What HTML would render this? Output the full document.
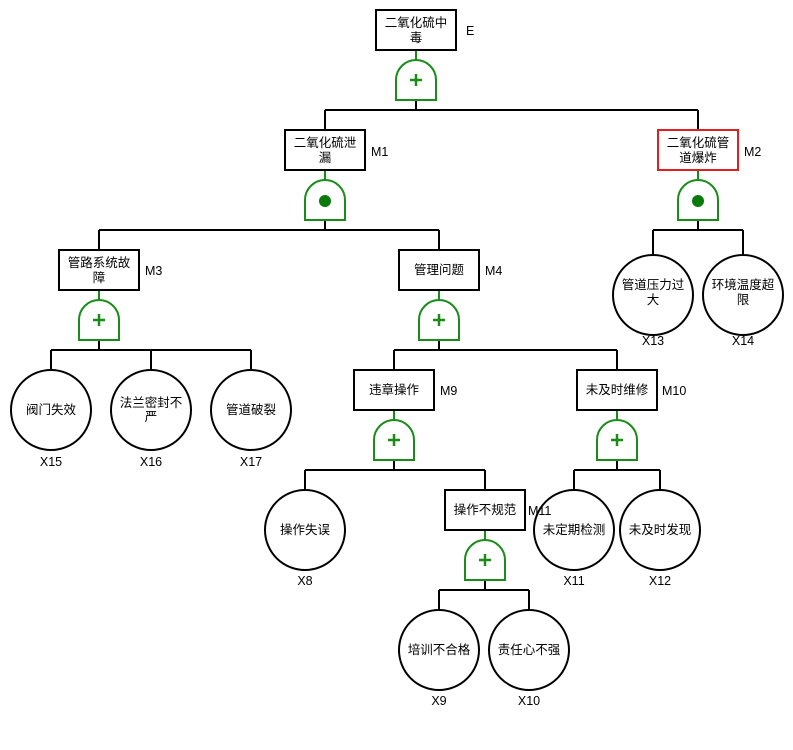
<!DOCTYPE html>
<html><head><meta charset="utf-8"><style>
html,body{margin:0;padding:0;background:#fff;}
svg{display:block;}
text{font-family:"Liberation Sans","Noto Sans CJK SC",sans-serif;font-size:12.5px;fill:#000;}
.l{stroke:#000;stroke-width:2;fill:none;}
.g{stroke:#1a8c1a;stroke-width:2;fill:#fff;}
.gl{stroke:#1a8c1a;stroke-width:2.5;}
.b{stroke:#000;stroke-width:2;fill:#fff;}
</style></head><body>
<svg width="793" height="750" viewBox="0 0 793 750" xmlns="http://www.w3.org/2000/svg">
<path class="l" d="M416 100V110M325 110H698M325 110V130M698 110V130
M325 220V230M99 230H439M99 230V250M439 230V250
M698 220V230M653 230H743M653 230V255M743 230V255
M99 340V350M51 350H251M51 350V370M151 350V370M251 350V370
M439 340V350M394 350H617M394 350V370M617 350V370
M394 460V470M305 470H485M305 470V490M485 470V490
M617 460V470M574 470H660M574 470V490M660 470V490
M485 580V590M439 590H529M439 590V610M529 590V610"/>
<path class="gl" style="stroke-width:2" d="M416 50V60M325 170V180M698 170V180M99 290V300M439 290V300M394 410V420M617 410V420M485 530V540"/>
<g class="g">
<path d="M396 100V80A20 20 0 0 1 436 80V100Z"/>
<path d="M305 220V200A20 20 0 0 1 345 200V220Z"/>
<path d="M678 220V200A20 20 0 0 1 718 200V220Z"/>
<path d="M79 340V320A20 20 0 0 1 119 320V340Z"/>
<path d="M419 340V320A20 20 0 0 1 459 320V340Z"/>
<path d="M374 460V440A20 20 0 0 1 414 440V460Z"/>
<path d="M597 460V440A20 20 0 0 1 637 440V460Z"/>
<path d="M465 580V560A20 20 0 0 1 505 560V580Z"/>
</g>
<g class="gl">
<path d="M410 80H422M416 74V86"/>
<path d="M93 320H105M99 314V326"/>
<path d="M433 320H445M439 314V326"/>
<path d="M388 440H400M394 434V446"/>
<path d="M611 440H623M617 434V446"/>
<path d="M479 560H491M485 554V566"/>
</g>
<circle cx="325" cy="201" r="6" fill="#0a7a0a"/>
<circle cx="698" cy="201" r="6" fill="#0a7a0a"/>
<rect class="b" x="376" y="10" width="80" height="40"/>
<rect class="b" x="285" y="130" width="80" height="40"/>
<rect x="658" y="130" width="80" height="40" fill="#fff" stroke="#e02020" stroke-width="2"/>
<rect class="b" x="59" y="250" width="80" height="40"/>
<rect class="b" x="399" y="250" width="80" height="40"/>
<rect class="b" x="354" y="370" width="80" height="40"/>
<rect class="b" x="577" y="370" width="80" height="40"/>
<rect class="b" x="445" y="490" width="80" height="40"/>
<g class="b">
<circle cx="653" cy="295" r="40"/><circle cx="743" cy="295" r="40"/>
<circle cx="51" cy="410" r="40"/><circle cx="151" cy="410" r="40"/><circle cx="251" cy="410" r="40"/>
<circle cx="305" cy="530" r="40"/><circle cx="574" cy="530" r="40"/><circle cx="660" cy="530" r="40"/>
<circle cx="439" cy="650" r="40"/><circle cx="529" cy="650" r="40"/>
</g>
<g text-anchor="middle">
<text x="416" y="27">二氧化硫中</text><text x="416" y="42">毒</text>
<text x="325" y="147">二氧化硫泄</text><text x="325" y="162">漏</text>
<text x="698" y="147">二氧化硫管</text><text x="698" y="162">道爆炸</text>
<text x="99" y="267">管路系统故</text><text x="99" y="282">障</text>
<text x="439" y="274">管理问题</text>
<text x="394" y="394">违章操作</text>
<text x="617" y="394">未及时维修</text>
<text x="485" y="514">操作不规范</text>
<text x="653" y="289">管道压力过</text><text x="653" y="304">大</text>
<text x="743" y="289">环境温度超</text><text x="743" y="304">限</text>
<text x="51" y="414">阀门失效</text>
<text x="151" y="407">法兰密封不</text><text x="151" y="421">严</text>
<text x="251" y="414">管道破裂</text>
<text x="305" y="534">操作失误</text>
<text x="574" y="534">未定期检测</text>
<text x="660" y="534">未及时发现</text>
<text x="439" y="654">培训不合格</text>
<text x="529" y="654">责任心不强</text>
<text x="653" y="345">X13</text><text x="743" y="345">X14</text>
<text x="51" y="466">X15</text><text x="151" y="466">X16</text><text x="251" y="466">X17</text>
<text x="305" y="585">X8</text><text x="574" y="585">X11</text><text x="660" y="585">X12</text>
<text x="439" y="705">X9</text><text x="529" y="705">X10</text>
</g>
<text x="466" y="35">E</text>
<text x="371" y="156">M1</text>
<text x="744" y="156">M2</text>
<text x="145" y="275">M3</text>
<text x="485" y="275">M4</text>
<text x="440" y="395">M9</text>
<text x="662" y="395">M10</text>
<text x="528" y="515">M11</text>
</svg>
</body></html>
